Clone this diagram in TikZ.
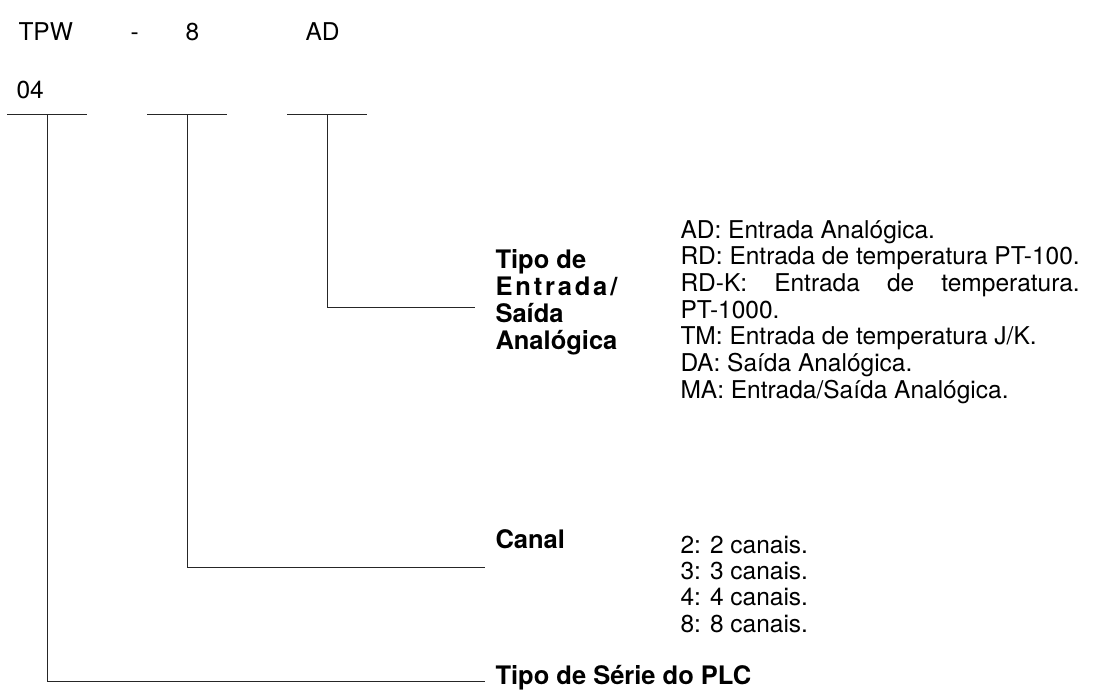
\documentclass[tikz,border=0pt]{standalone}
\usepackage{fontspec}
\setmainfont{TeX Gyre Heros}
\usepackage{calc}
\usepackage{tikz}

\begin{document}
\begin{tikzpicture}[x=1pt, y=-1pt, line width=1pt, draw=black!85,
    every node/.style={inner sep=0pt, anchor=base west, font=\fontsize{24.5}{26}\selectfont},
    head/.style={font=\fontsize{25.5}{27}\selectfont\bfseries}]
    \useasboundingbox (0,0) rectangle (1101,691);

    \node (tpw) at (18,40) {TPW};
    \node (dash) at (130,40) {-};
    \node (ch) at (185,40) {8};
    \node (ad) at (305,40) {AD};
    \node (num) at (16,98) {04};

    \coordinate (s1) at (47,114);
    \coordinate (s2) at (187,114);
    \coordinate (s3) at (327,114);
    \foreach \s in {s1,s2,s3}
        \draw ([xshift=-40pt]\s) -- ([xshift=40pt]\s);

    \coordinate (e1) at (475,307);
    \coordinate (e2) at (485,567);
    \coordinate (e3) at (485,681);
    \draw (s3) |- (e1);
    \draw (s2) |- (e2);
    \draw (s1) |- (e3);

    \foreach \txt [count=\i] in {Tipo de,
        {\makebox[\widthof{Analógica}][s]{E\hfil n\hfil t\hfil r\hfil a\hfil d\hfil a\hfil /}},
        Saída, Analógica}
        \node[head] (tipo\i) at (495,241+27*\i) {\txt};
    \foreach \txt [count=\i] in {AD: Entrada Analógica.,
        RD: Entrada de temperatura PT-100.,
        {\makebox[\widthof{RD: Entrada de temperatura PT-100.}][s]{RD-K: Entrada de temperatura.}},
        PT-1000., TM: Entrada de temperatura J/K., DA: Saída Analógica.,
        MA: Entrada/Saída Analógica.}
        \node (tipoop\i) at (680,211.3+26.7*\i) {\txt};

    \node[head] (canal) at (495,548) {Canal};
    \foreach \n [count=\i] in {2,3,4,8}
        \node (canalop\i) at (680,527+26.3*\i) {\n: \n\ canais.};

    \node[head] (serie) at (495,684) {Tipo de Série do PLC};
\end{tikzpicture}
\end{document}
